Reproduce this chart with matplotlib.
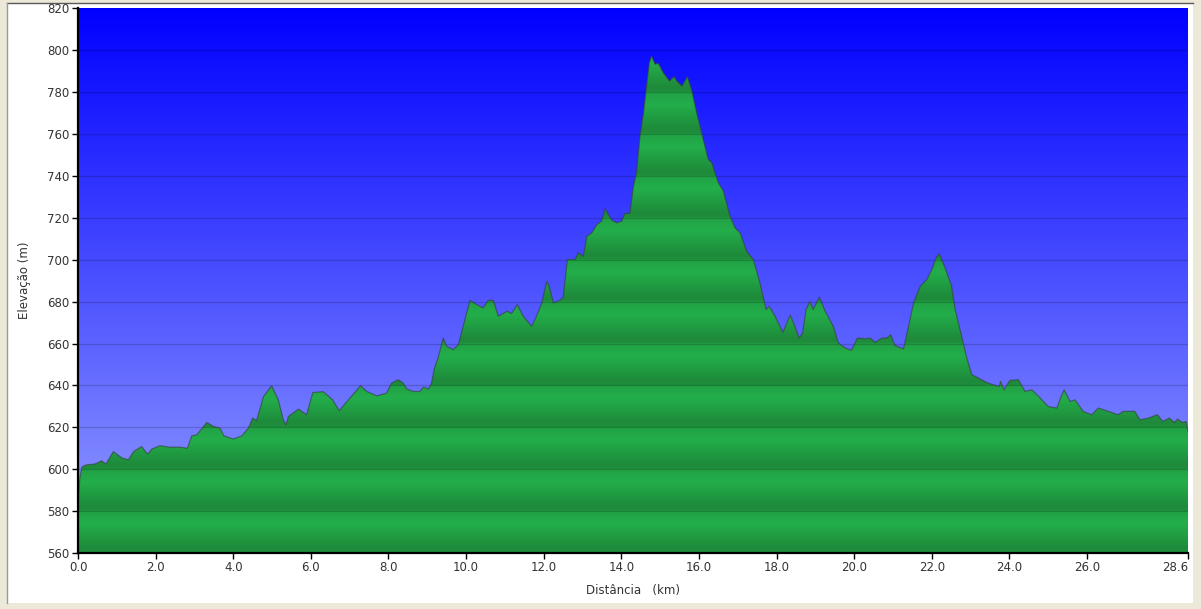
import numpy as np
import matplotlib
matplotlib.use("Agg")
import matplotlib.pyplot as plt
from matplotlib.patches import Polygon, Rectangle
from matplotlib.lines import Line2D

# elevation profile (km, m)
dist_km = [0.00, 0.05, 0.10, 0.20, 0.44, 0.61, 0.72, 0.91, 1.13, 1.30, 1.43, 1.64, 1.79, 1.90,
           2.11, 2.37, 2.63, 2.82, 2.93, 3.06, 3.32, 3.49, 3.66, 3.76, 4.00, 4.22, 4.39, 4.50,
           4.60, 4.78, 4.99, 5.16, 5.29, 5.36, 5.42, 5.68, 5.89, 6.05, 6.32, 6.56, 6.73, 7.01,
           7.28, 7.44, 7.70, 7.95, 8.08, 8.25, 8.38, 8.47, 8.64, 8.81, 8.90, 9.03, 9.11, 9.18,
           9.28, 9.41, 9.50, 9.67, 9.80, 9.97, 10.10, 10.27, 10.44, 10.57, 10.70, 10.83, 11.06,
           11.17, 11.32, 11.47, 11.69, 11.82, 11.95, 12.08, 12.14, 12.25, 12.38, 12.50, 12.61,
           12.81, 12.89, 13.02, 13.11, 13.24, 13.37, 13.49, 13.58, 13.75, 13.88, 14.01, 14.09,
           14.22, 14.31, 14.39, 14.48, 14.57, 14.66, 14.72, 14.78, 14.87, 14.95, 15.08, 15.24,
           15.36, 15.43, 15.56, 15.70, 15.81, 15.94, 16.11, 16.24, 16.33, 16.50, 16.63, 16.80,
           16.93, 17.06, 17.23, 17.40, 17.57, 17.73, 17.81, 17.96, 18.16, 18.35, 18.47, 18.58,
           18.67, 18.76, 18.86, 18.94, 19.10, 19.25, 19.46, 19.59, 19.76, 19.93, 20.08, 20.28,
           20.41, 20.54, 20.71, 20.84, 20.94, 21.05, 21.27, 21.40, 21.53, 21.70, 21.87, 22.00,
           22.11, 22.19, 22.34, 22.51, 22.60, 22.77, 22.90, 23.03, 23.20, 23.41, 23.58, 23.74,
           23.77, 23.86, 24.01, 24.23, 24.40, 24.58, 24.79, 25.00, 25.22, 25.33, 25.41, 25.56,
           25.69, 25.90, 26.12, 26.29, 26.55, 26.80, 26.93, 27.23, 27.36, 27.58, 27.81, 27.95,
           28.12, 28.25, 28.33, 28.46, 28.55, 28.60]
elev_m = [585, 596, 601, 602, 602.5, 604, 602.5, 608.4, 605.4, 604.5, 608.4, 610.8, 607.2, 609.6,
          611.2, 610.5, 610.5, 610.0, 615.9, 616.4, 622.3, 620.4, 619.6, 615.9, 614.4, 615.9, 619.6, 624.4,
          623.2, 634.7, 639.8, 633.1, 623.6, 621.2, 625.2, 628.7, 626.0, 636.6, 637.0, 633.1, 628.0, 634.0,
          639.8, 637.1, 635.0, 636.3, 641.1, 642.7, 641.1, 638.3, 637.1, 637.1, 639.2, 638.3, 641.1, 648.0,
          653.2, 662.6, 658.6, 657.1, 659.4, 671.4, 680.6, 678.6, 677.0, 680.6, 680.6, 673.0, 675.4,
          674.3, 678.6, 673.0, 668.2, 673.3, 679.4, 689.7, 687.3, 679.4, 680.2, 681.8, 700.1,
          700.1, 703.3, 701.7, 711.2, 712.8, 716.8, 718.4, 724.3, 718.9, 717.6, 718.4, 722.1,
          722.1, 735.0, 741.5, 759.0, 770.2, 784.6, 794.1, 797.3, 793.3, 793.8, 789.3, 785.3,
          787.4, 785.3, 782.9, 787.4, 781.3, 770.2, 757.4, 747.9, 746.3, 736.7, 732.7, 720.8,
          715.2, 712.8, 704.0, 700.1, 688.9, 676.2, 677.8, 673.0, 665.3, 673.5, 668.2, 662.6,
          665.0, 676.2, 680.1, 676.2, 682.2, 675.4, 668.2, 660.3, 657.9, 656.7, 662.6, 662.2,
          662.6, 660.5, 662.6, 662.6, 664.2, 659.0, 657.4, 668.2, 679.4, 687.3, 690.5, 695.3,
          700.9, 702.9, 696.1, 687.3, 676.2, 663.4, 653.1, 645.1, 643.5, 641.4, 640.3, 639.5,
          641.9, 637.9, 642.4, 642.7, 637.1, 637.9, 634.0, 629.9, 629.2, 634.7, 637.9, 632.3,
          633.1, 627.6, 626.0, 629.2, 627.6, 626.0, 627.6, 627.6, 623.6, 624.4, 626.0, 622.8,
          624.4, 622.3, 623.9, 622.3, 622.8, 618.0]

x_ticks = [0, 2, 4, 6, 8, 10, 12, 14, 16, 18, 20, 22, 24, 26, 28.6]
y_ticks = list(range(560, 821, 20))

x_max = 28.6
y_min, y_max = 560, 820

fig = plt.figure(figsize=(12.01, 6.09), dpi=100, facecolor="#ECE9D8")

# white panel with sunken border (behind the axes)
W, H = 1201, 609
fig.patches.append(Rectangle((7 / W, 6 / H), 1186 / W, 600 / H, transform=fig.transFigure,
                             facecolor="white", edgecolor="none", zorder=-2))
fig.lines.append(Line2D([7 / W, 1193 / W], [1 - 3 / H, 1 - 3 / H], transform=fig.transFigure,
                        color="#5a5a5a", lw=1, zorder=-1))
fig.lines.append(Line2D([7 / W, 7 / W], [6 / H, 1 - 3 / H], transform=fig.transFigure,
                        color="#9a9a9a", lw=1, zorder=-1))

ax = fig.add_axes([78 / W, 1 - 553 / H, 1110 / W, (553 - 8.3) / H])
ax.set_xlim(0, x_max)
ax.set_ylim(y_min, y_max)

# blue sky gradient
rows = np.linspace(0, 1, 400)[:, None]
top = np.array([0, 0, 255]) / 255
bot = np.array([150, 160, 255]) / 255
sky = top + (bot - top) * rows[..., None] * np.ones((1, 2, 1))
ax.imshow(sky, extent=[0, x_max, y_min, y_max], aspect="auto", origin="upper", zorder=0)

# green banded fill, clipped to the profile
e = np.linspace(y_min, y_max, 1300)
t = (np.ceil(e / 20) * 20 - e) / 20  # 0 at band top, 1 at band bottom
dark = np.interp(t, [0, 0.3, 0.9, 1], [0.35, 0.0, 1.0, 0.85])
light = np.array([35, 174, 75]) / 255
darkc = np.array([30, 138, 58]) / 255
green = light + (darkc - light) * dark[:, None]
green_img = np.repeat(green[:, None, :], 2, axis=1)
im = ax.imshow(green_img, extent=[0, x_max, y_min, y_max], aspect="auto", origin="lower",
               zorder=1, interpolation="bilinear")

verts = [(dist_km[0], y_min)] + list(zip(dist_km, elev_m)) + [(dist_km[-1], y_min)]
poly = Polygon(verts, closed=True, facecolor="none", edgecolor="none")
ax.add_patch(poly)
im.set_clip_path(poly)

ax.plot(dist_km, elev_m, color="#34403a", lw=0.9, alpha=0.6, zorder=3)

# grid lines
for g in y_ticks[1:-1]:
    ax.axhline(g, color="black", lw=0.9, alpha=0.18, zorder=2)

for s in ["top", "right"]:
    ax.spines[s].set_visible(False)
for s in ["left", "bottom"]:
    ax.spines[s].set_linewidth(1.6)
    ax.spines[s].set_zorder(5)

ax.set_xticks(x_ticks)
ax.set_xticklabels([f"{v:.1f}" for v in x_ticks])
ax.get_xticklabels()[-1].set_horizontalalignment("right")
ax.set_yticks(y_ticks)
ax.set_yticklabels([str(v) for v in y_ticks])
ax.tick_params(direction="out", length=4, width=1, color="black", labelsize=8.5,
               labelcolor="#333333", pad=2)

ax.set_xlabel("Distância   (km)", fontsize=8.5, color="#333333")
ax.set_ylabel("Elevação (m)", fontsize=8.5, color="#333333")
ax.xaxis.set_label_coords(0.5, -0.057)
ax.yaxis.set_label_coords(-0.042, 0.5)

fig.savefig("out.png", dpi=100, facecolor=fig.get_facecolor())
